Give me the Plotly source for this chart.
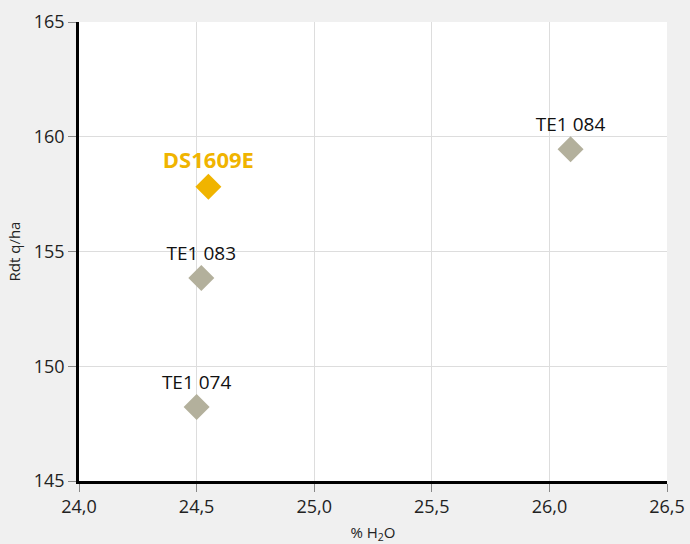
import plotly.graph_objects as go

names = ["TE1 084", "TE1 083", "TE1 074"]
h2o = [26.09, 24.52, 24.50]
rdt = [159.45, 153.85, 148.22]

hl_name = ["DS1609E"]
hl_h2o = [24.55]
hl_rdt = [157.82]

x_ticks = [24.0, 24.5, 25.0, 25.5, 26.0, 26.5]
x_ticklabels = ["24,0", "24,5", "25,0", "25,5", "26,0", "26,5"]
y_ticks = [145, 150, 155, 160, 165]

fig = go.Figure()
fig.add_trace(go.Scatter(
    x=h2o, y=rdt, mode="markers+text", text=names, textposition="top center",
    marker=dict(symbol="diamond", size=20, color="#b3b09c"),
    textfont=dict(size=19, color="#111111", family="Open Sans"),
    cliponaxis=False, showlegend=False))
fig.add_trace(go.Scatter(
    x=hl_h2o, y=hl_rdt, mode="markers+text", text=["<b>" + t + "</b>" for t in hl_name],
    textposition="top center",
    marker=dict(symbol="diamond", size=20, color="#f0b400"),
    textfont=dict(size=22, color="#f0b400", family="Open Sans"),
    cliponaxis=False, showlegend=False))

fig.update_layout(
    width=690, height=544,
    margin=dict(l=79, r=23, t=22, b=63),
    paper_bgcolor="#f0f0f0", plot_bgcolor="#ffffff",
    font=dict(family="Open Sans", size=18, color="#222222"),
    xaxis=dict(range=[24.0, 26.5], tickvals=x_ticks, ticktext=x_ticklabels,
               automargin=False,
               showgrid=True, gridcolor="#dddddd", gridwidth=1,
               showline=True, linecolor="#000000", linewidth=2.5,
               ticks="outside", ticklen=8, tickcolor="#888888",
               zeroline=False,
               title=dict(text="% H<sub>2</sub>O", font=dict(size=15), standoff=14)),
    yaxis=dict(range=[145, 165], tickvals=y_ticks,
               automargin=False,
               showgrid=True, gridcolor="#dddddd", gridwidth=1,
               showline=True, linecolor="#000000", linewidth=2.5,
               ticks="outside", ticklen=8, tickcolor="#888888",
               zeroline=False,
               title=dict(text="Rdt q/ha", font=dict(size=15), standoff=10)),
)
fig.write_html("out.html", config={"displayModeBar": False},
               post_script="document.body.style.margin='0';document.body.style.overflow='hidden';")
